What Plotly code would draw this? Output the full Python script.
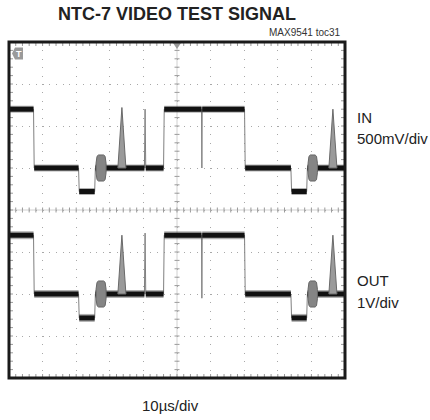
import numpy as np
import plotly.graph_objects as go

# ---------------- data ----------------
# time axis: 10 us/div, 10 divisions ; vertical: 8 divisions
T = [0, 7.3, 7.5, 20.7, 20.9, 25.5, 25.7, 40.3, 40.5, 40.7, 46.0, 46.2,
     57.3, 57.4, 57.5, 70.1, 70.3, 83.9, 84.1, 88.6, 88.8, 100]
IN_V = [0.70, 0.70, 0.0, 0.0, -0.28, -0.28, 0.0, 0.0, 0.70, 0.0, 0.0, 0.70,
        0.70, 0.0, 0.70, 0.70, 0.0, 0.0, -0.28, -0.28, 0.0, 0.0]
OUT_V = [1.40, 1.40, 0.0, 0.0, -0.57, -0.57, 0.0, 0.0, 1.45, 0.0, 0.0, 1.40,
         1.40, -0.10, 1.40, 1.40, 0.0, 0.0, -0.57, -0.57, 0.0, 0.0]

# 2T pulses: start, peak, end times (us) and peak values (V)
PULSE_START = [32.4, 95.2]
PULSE_PEAK_T = [33.6, 96.4]
PULSE_END = [34.8, 97.6]
IN_PULSE_PEAK = [0.72, 0.70]
OUT_PULSE_PEAK = [1.40, 1.40]

# chroma bursts: start / end times (us), peak amplitude (V)
BURST_START = [25.9, 89.0]
BURST_END = [28.9, 91.8]
BURST_ENV_POS = [0.0, 0.1, 0.25, 0.75, 0.9, 1.0]
BURST_ENV_AMP = [0.35, 0.9, 1.0, 1.0, 0.9, 0.35]
IN_BURST_AMP = 0.155
OUT_BURST_AMP = 0.31

# channel settings: V/div and blanking position (div from centre)
IN_SCALE, IN_POS = 0.5, 1.0
OUT_SCALE, OUT_POS = 1.0, -2.0

FONT = "Liberation Sans, Arial, sans-serif"

fig = go.Figure()


def add_channel(vals, scale, pos, core_w, halo_w, pulse_peaks, burst_amp):
    y = [v / scale + pos for v in vals]
    # thin edges / spikes (underneath the level bands)
    fig.add_trace(go.Scatter(x=T, y=y, mode="lines",
                             line=dict(color="#808080", width=1),
                             hoverinfo="skip"))
    # flat (noisy) level segments
    sx, sy = [], []
    for i in range(len(T) - 1):
        if vals[i] == vals[i + 1] and T[i + 1] - T[i] > 0.3:
            sx += [T[i], T[i + 1], None]
            sy += [y[i], y[i + 1], None]
    fig.add_trace(go.Scatter(x=sx, y=sy, mode="lines",
                             line=dict(color="rgba(60,60,60,0.4)", width=halo_w),
                             hoverinfo="skip"))
    fig.add_trace(go.Scatter(x=sx, y=sy, mode="lines",
                             line=dict(color="#111111", width=core_w),
                             hoverinfo="skip"))
    # 2T pulses
    for t0, tp, t1, pk in zip(PULSE_START, PULSE_PEAK_T, PULSE_END, pulse_peaks):
        fig.add_trace(go.Scatter(x=[t0, tp, t1, t0], y=[pos, pk / scale + pos, pos, pos],
                                 mode="lines", fill="toself", fillcolor="#9a9a9a",
                                 line=dict(color="#6a6a6a", width=1), hoverinfo="skip"))
    # bursts
    for b0, b1 in zip(BURST_START, BURST_END):
        bx = [b0 + f * (b1 - b0) for f in BURST_ENV_POS]
        top = [pos + a * burst_amp / scale for a in BURST_ENV_AMP]
        bot = [pos - a * burst_amp / scale for a in BURST_ENV_AMP]
        fig.add_trace(go.Scatter(x=bx + bx[::-1] + [bx[0]], y=top + bot[::-1] + [top[0]],
                                 mode="lines", fill="toself", fillcolor="#858585",
                                 line=dict(color="#666666", width=1), hoverinfo="skip"))


add_channel(IN_V, IN_SCALE, IN_POS, 5, 7, IN_PULSE_PEAK, IN_BURST_AMP)
add_channel(OUT_V, OUT_SCALE, OUT_POS, 5, 8, OUT_PULSE_PEAK, OUT_BURST_AMP)

# ---------------- graticule decorations ----------------
shapes = []
TICK_COL = "#9a9a9a"
# centre lines
shapes.append(dict(type="line", xref="x", yref="y domain", x0=50, x1=50, y0=0, y1=1,
                   line=dict(color="#d0d0d0", width=1), layer="below"))
shapes.append(dict(type="line", xref="x domain", yref="y", x0=0, x1=1, y0=0, y1=0,
                   line=dict(color="#d0d0d0", width=1), layer="below"))
for xv in np.arange(0, 100.01, 2):
    shapes.append(dict(type="line", xref="x", yref="y", ysizemode="pixel", yanchor=0,
                       x0=xv, x1=xv, y0=-2.5, y1=2.5, line=dict(color=TICK_COL, width=1),
                       layer="below"))
    for anc, a, b in [(0, 0, 4), (1, 0, -4)]:
        shapes.append(dict(type="line", xref="x", yref="y domain", ysizemode="pixel",
                           yanchor=anc, x0=xv, x1=xv, y0=a, y1=b,
                           line=dict(color=TICK_COL, width=1), layer="below"))
for yv in np.arange(-4, 4.001, 0.2):
    shapes.append(dict(type="line", xref="x", yref="y", xsizemode="pixel", xanchor=50,
                       x0=-2.5, x1=2.5, y0=yv, y1=yv, line=dict(color=TICK_COL, width=1),
                       layer="below"))
    for anc, a, b in [(0, 0, 4), (1, 0, -4)]:
        shapes.append(dict(type="line", xref="x domain", yref="y", xsizemode="pixel",
                           xanchor=anc, x0=a, x1=b, y0=yv, y1=yv,
                           line=dict(color=TICK_COL, width=1), layer="below"))
# trigger marker (top centre)
shapes.append(dict(type="path", xref="x", yref="y domain", xsizemode="pixel", xanchor=50,
                   ysizemode="pixel", yanchor=1, path="M-4,-1 L4,-1 L0,-7 Z",
                   fillcolor="#999999", line=dict(width=0)))
# channel icon (top left)
shapes.append(dict(type="path", xref="x domain", yref="y domain", xsizemode="pixel",
                   xanchor=0, ysizemode="pixel", yanchor=1,
                   path="M3,-11.5 L6,-5.5 L14,-5.5 L14,-17.5 L6,-17.5 Z",
                   fillcolor="#9a9a9a", line=dict(width=0)))
# frame
shapes.append(dict(type="rect", xref="x domain", yref="y domain", x0=0, x1=1, y0=0, y1=1,
                   line=dict(color="#1a1a1a", width=3), layer="above"))

annotations = [
    dict(text="<b>NTC-7 VIDEO TEST SIGNAL</b>", xref="paper", yref="paper", x=0.5, y=1.084,
         xanchor="center", yanchor="middle", showarrow=False,
         font=dict(family=FONT, size=18, color="#222")),
    dict(text="MAX9541 toc31", xref="paper", yref="paper", x=0.994, y=1.028,
         xanchor="right", yanchor="middle", showarrow=False,
         font=dict(family=FONT, size=10, color="#333")),
    dict(text="IN", xref="paper", yref="paper", x=1, xshift=10, y=0.775,
         xanchor="left", yanchor="middle", showarrow=False,
         font=dict(family=FONT, size=15, color="#222")),
    dict(text="500mV/div", xref="paper", yref="paper", x=1, xshift=10, y=0.713,
         xanchor="left", yanchor="middle", showarrow=False,
         font=dict(family=FONT, size=15, color="#222")),
    dict(text="OUT", xref="paper", yref="paper", x=1, xshift=10, y=0.289,
         xanchor="left", yanchor="middle", showarrow=False,
         font=dict(family=FONT, size=15, color="#222")),
    dict(text="1V/div", xref="paper", yref="paper", x=1, xshift=10, y=0.225,
         xanchor="left", yanchor="middle", showarrow=False,
         font=dict(family=FONT, size=15, color="#222")),
    dict(text="10µs/div", xref="paper", yref="paper", x=0.482, y=-0.082,
         xanchor="center", yanchor="middle", showarrow=False,
         font=dict(family=FONT, size=15, color="#222")),
    dict(text="<b>T</b>", xref="paper", yref="paper", x=0, xshift=10, y=1, yshift=-11.5,
         xanchor="center", yanchor="middle", showarrow=False,
         font=dict(family=FONT, size=9, color="#ffffff")),
]

fig.update_layout(
    width=430, height=420,
    margin=dict(l=9, r=85, t=42, b=42),
    paper_bgcolor="white", plot_bgcolor="white",
    showlegend=False,
    shapes=shapes, annotations=annotations,
    xaxis=dict(range=[0, 100], dtick=10, tick0=0, showticklabels=False, ticks="",
               showgrid=True, gridcolor="#a8a8a8", gridwidth=1, griddash="1px,7.4px",
               zeroline=False, fixedrange=True),
    yaxis=dict(range=[-4, 4], dtick=1, tick0=0, showticklabels=False, ticks="",
               showgrid=True, gridcolor="#a8a8a8", gridwidth=1, griddash="1px,5.72px",
               zeroline=False, fixedrange=True),
)

# remove the default 8px page margin so the figure fills the 430x420 window
fig.write_html("out.html",
               config={"displayModeBar": False},
               post_script="document.body.style.margin='0px';document.body.style.overflow='hidden';")
